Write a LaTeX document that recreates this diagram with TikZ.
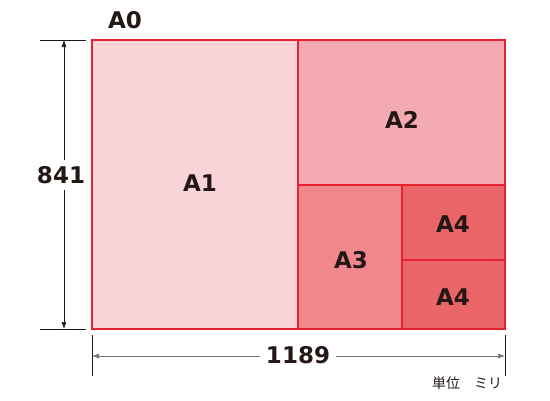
\documentclass[tikz,border=0pt]{standalone}
\usepackage{fontspec}
\setmainfont{DejaVu Sans}
\newfontfamily\jpfont{Noto Sans CJK JP}
\usetikzlibrary{arrows.meta}
\definecolor{edgered}{HTML}{E52330}
\definecolor{paperA1}{HTML}{F9D5D9}
\definecolor{paperA2}{HTML}{F3AAB0}
\definecolor{paperA3}{HTML}{EF878C}
\definecolor{paperA4}{HTML}{EA6567}
\definecolor{ink}{HTML}{231815}

\begin{document}
\begin{tikzpicture}[x=1pt, y=-1pt,
    sheet/.style={draw=edgered, line width=1.1pt},
    size/.style={text=ink, font=\fontsize{23}{23}\selectfont\bfseries},
    dimline/.style={draw=ink, line width=0.6pt},
    dimarrow/.style={dimline, -{Latex[length=7pt, width=5pt]}}]
    \useasboundingbox (0,0) rectangle (550,400);
    % sheets
    \filldraw[sheet, fill=paperA1] (92,40) rectangle (298,329);
    \filldraw[sheet, fill=paperA2] (298,40) rectangle (505,185);
    \filldraw[sheet, fill=paperA3] (298,185) rectangle (402,329);
    \filldraw[sheet, fill=paperA4] (402,185) rectangle (505,260);
    \filldraw[sheet, fill=paperA4] (402,260) rectangle (505,329);
    \node[size] at (125,20) (A0) {A0};
    \node[size] at (200,183) (A1) {A1};
    \node[size] at (402,120) (A2) {A2};
    \node[size] at (351,260) (A3) {A3};
    \node[size] at (453,224) (A4a) {A4};
    \node[size] at (453,297) (A4b) {A4};
    % height
    \coordinate (Htop) at (64,40);
    \coordinate (Hbot) at (64,329);
    \draw[dimline] (40,40) -- (86,40);
    \draw[dimline] (40,329) -- (86,329);
    \node[size, inner sep=6pt] at (61,175) (H) {841};
    \draw[dimarrow] (H.north -| Htop) -- (Htop);
    \draw[dimarrow] (H.south -| Hbot) -- (Hbot);
    % width
    \coordinate (Wleft) at (92,356);
    \coordinate (Wright) at (505,356);
    \draw[dimline] (92,335) -- (92,376);
    \draw[dimline] (505,335) -- (505,376);
    \node[size, inner sep=6pt] at (298,355) (W) {1189};
    \draw[dimarrow, draw=black!55] (W.west |- Wleft) -- (Wleft);
    \draw[dimarrow, draw=black!55] (W.east |- Wright) -- (Wright);
    \node[text=ink, font=\jpfont\fontsize{14}{14}\selectfont] at (467,383) (unit) {単位　ミリ};
\end{tikzpicture}
\end{document}
